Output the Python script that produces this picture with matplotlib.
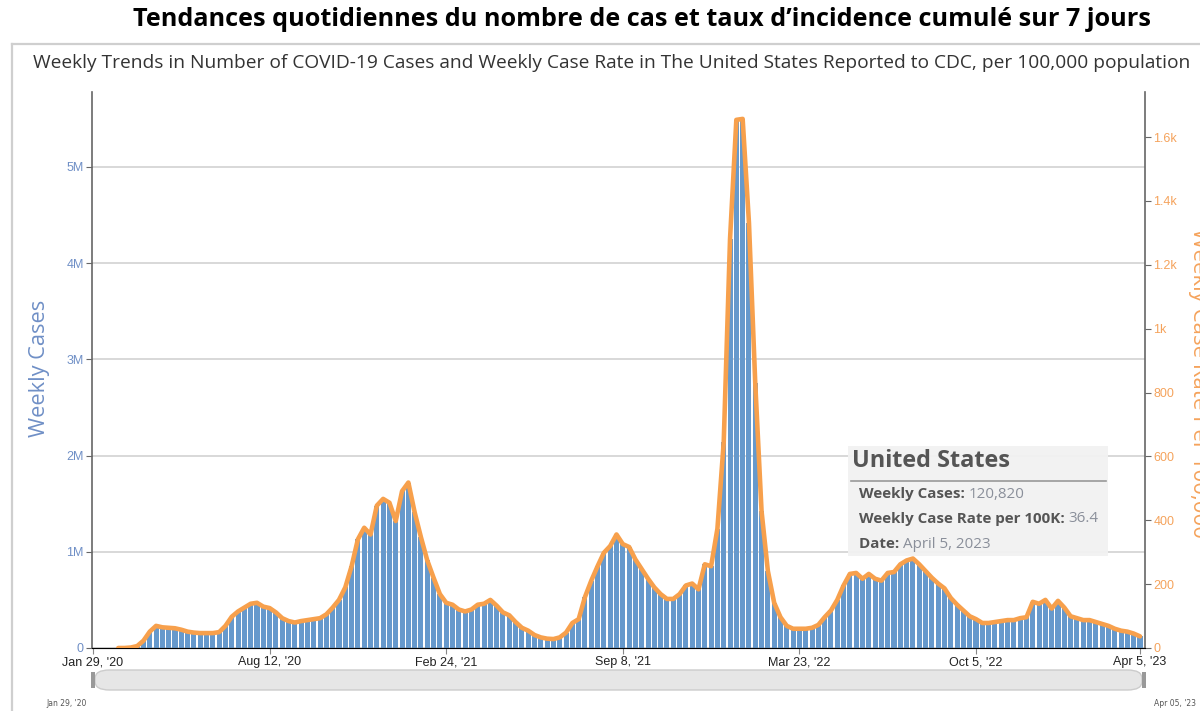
import numpy as np
import pandas as pd
import matplotlib
matplotlib.use("Agg")
import matplotlib.pyplot as plt
from matplotlib.patches import FancyBboxPatch, Rectangle
from matplotlib.lines import Line2D

# ---------------- data ----------------
start_date = "2020-01-29"
n_weeks = 167
# weekly cases in millions; NaN = no data drawn
weekly_cases_m = [
    np.nan, np.nan, np.nan, np.nan, 0.0, 0.0, 0.005, 0.02, 0.076, 0.17,
    0.23, 0.215, 0.21, 0.205, 0.19, 0.17, 0.16, 0.155, 0.155, 0.155,
    0.165, 0.23, 0.325, 0.38, 0.42, 0.46, 0.47, 0.43, 0.415, 0.37,
    0.31, 0.28, 0.265, 0.28, 0.29, 0.30, 0.31, 0.35, 0.42, 0.50,
    0.63, 0.85, 1.13, 1.25, 1.18, 1.48, 1.55, 1.51, 1.32, 1.63,
    1.72, 1.41, 1.15, 0.91, 0.73, 0.56, 0.47, 0.45, 0.40, 0.38,
    0.40, 0.45, 0.46, 0.50, 0.44, 0.37, 0.34, 0.27, 0.21, 0.18,
    0.135, 0.11, 0.097, 0.093, 0.11, 0.16, 0.26, 0.30, 0.53, 0.70,
    0.85, 0.99, 1.06, 1.18, 1.08, 1.05, 0.92, 0.82, 0.72, 0.63,
    0.56, 0.51, 0.51, 0.56, 0.65, 0.67, 0.61, 0.87, 0.85, 1.24,
    2.14, 4.25, 5.49, 5.50, 4.42, 2.75, 1.42, 0.80, 0.47, 0.32,
    0.23, 0.20, 0.20, 0.20, 0.21, 0.24, 0.32, 0.39, 0.50, 0.65,
    0.77, 0.78, 0.72, 0.77, 0.72, 0.70, 0.78, 0.79, 0.87, 0.91,
    0.93, 0.87, 0.80, 0.73, 0.67, 0.62, 0.52, 0.45, 0.39, 0.33,
    0.30, 0.26, 0.26, 0.27, 0.28, 0.29, 0.29, 0.31, 0.32, 0.48,
    0.46, 0.50, 0.41, 0.49, 0.42, 0.33, 0.31, 0.29, 0.29, 0.27,
    0.25, 0.23, 0.20, 0.18, 0.17, 0.15, 0.12082,
]
assert len(weekly_cases_m) == n_weeks
us_population = 331_900_000

tick_dates = ["2020-01-29", "2020-08-12", "2021-02-24", "2021-09-08",
              "2022-03-23", "2022-10-05", "2023-04-05"]
tick_labels = ["Jan 29, '20", "Aug 12, '20", "Feb 24, '21", "Sep 8, '21",
               "Mar 23, '22", "Oct 5, '22", "Apr 5, '23"]
left_ticks_m = [0, 1, 2, 3, 4, 5]
left_tick_labels = ["0", "1M", "2M", "3M", "4M", "5M"]
right_ticks = [0, 200, 400, 600, 800, 1000, 1200, 1400, 1600]
right_tick_labels = ["0", "200", "400", "600", "800", "1k", "1.2k", "1.4k", "1.6k"]

tooltip_title = "United States"
tooltip_rows = [("Weekly Cases:", "120,820"),
                ("Weekly Case Rate per 100K:", "36.4"),
                ("Date:", "April 5, 2023")]

# ---------------- figure ----------------
W, H = 1200, 711
fig = plt.figure(figsize=(W / 100, H / 100), dpi=100)
fig.patch.set_facecolor("white")

def fx(px):
    return px / W

def fy(py):
    return 1 - py / H

BLUE = "#6699cc"
ORANGE = "#f7a04c"
BLUE_TXT = "#6f8fc6"
ORANGE_TXT = "#f5a35c"

# panel border
fig.add_artist(Line2D([fx(12), fx(12)], [fy(44), fy(711)], color="#cfcfcf", lw=1.6))
fig.add_artist(Line2D([fx(12), fx(1200)], [fy(44), fy(44)], color="#cfcfcf", lw=1.6))

fig.text(fx(642), fy(20), "Tendances quotidiennes du nombre de cas et taux d\u2019incidence cumulé sur 7 jours",
         ha="center", va="center", fontsize=18.2, fontweight="bold", family="Open Sans", color="black")
fig.text(fx(33), fy(63), "Weekly Trends in Number of COVID-19 Cases and Weekly Case Rate in The United States Reported to CDC, per 100,000 population",
         ha="left", va="center", fontsize=13.75, family="Open Sans", color="#333333")

left_px, right_px, top_px, bot_px = 92, 1145, 92, 648
ax = fig.add_axes([fx(left_px), fy(bot_px), fx(right_px - left_px), (bot_px - top_px) / H])

x = np.arange(n_weeks)
cases = np.array(weekly_cases_m) * 1e6
rate = cases * 1e5 / us_population

ax.bar(x, cases, width=0.8, color=BLUE, linewidth=0, zorder=2)
ax2 = ax.twinx()
ax2.plot(x, rate, color=ORANGE, lw=3.3, solid_joinstyle="round", solid_capstyle="round", zorder=3)

px_per_week = (1140 - 93) / 166
ax.set_xlim(-(93 - left_px) / px_per_week, 166 + (right_px - 1140) / px_per_week)
ytop_m = (bot_px - top_px) / 96.2
ax.set_ylim(0, ytop_m * 1e6)
ax2.set_ylim(0, ytop_m * 1e6 * 1e5 / us_population)

dates = pd.date_range(start_date, periods=n_weeks, freq="7D")
tick_pos = [int(np.where(dates == pd.Timestamp(d))[0][0]) for d in tick_dates]
ax.set_xticks(tick_pos)
ax.set_xticklabels(tick_labels, fontsize=9, color="#222222", family="Liberation Sans")
ax.tick_params(axis="x", length=4, color="#888888", pad=2)

ax.set_yticks([v * 1e6 for v in left_ticks_m])
ax.set_yticklabels(left_tick_labels, fontsize=9, color=BLUE_TXT, family="Liberation Sans")
ax.tick_params(axis="y", length=4, color="#666666", pad=2)
ax.grid(axis="y", color="#d6d6d6", lw=1.3, zorder=0)
ax.set_axisbelow(True)

ax2.set_yticks(right_ticks)
ax2.set_yticklabels(right_tick_labels, fontsize=9, color=ORANGE_TXT, family="Liberation Sans")
ax2.tick_params(axis="y", length=4, color="#666666", pad=2)

for a in (ax, ax2):
    a.spines["top"].set_visible(False)
ax.spines["right"].set_visible(False)
ax2.spines["left"].set_visible(False)
ax.spines["left"].set_color("#666666")
ax2.spines["right"].set_color("#666666")
ax.spines["bottom"].set_color("#999999")
ax.spines["left"].set_linewidth(1.2)
ax2.spines["right"].set_linewidth(1.2)

fig.text(fx(40), fy(368), "Weekly Cases", rotation=90, ha="center", va="center",
         fontsize=15.7, family="Open Sans", color=BLUE_TXT)
fig.text(fx(1198), fy(383), "Weekly Case Rate Per 100,000", rotation=270, ha="center", va="center",
         fontsize=16, family="Open Sans", color=ORANGE_TXT)

# tooltip
tb_l, tb_t, tb_r, tb_b = 848, 446, 1108, 556
fig.add_artist(Rectangle((fx(tb_l), fy(tb_b)), fx(tb_r - tb_l), (tb_b - tb_t) / H,
                         facecolor="#f2f2f2", edgecolor="none", alpha=0.95, zorder=10))
fig.text(fx(852), fy(461), tooltip_title, ha="left", va="center", fontsize=16.9,
         fontweight="bold", family="Open Sans", color="#555555", zorder=11)
fig.add_artist(Line2D([fx(851), fx(1106)], [fy(481), fy(481)], color="#999999", lw=1.2, zorder=11))
row_y = [494, 519, 544]
rend = fig.canvas.get_renderer()
for (lab, val), yy in zip(tooltip_rows, row_y):
    t = fig.text(fx(859), fy(yy), lab + " ", ha="left", va="center", fontsize=10.9,
                 fontweight="bold", family="Open Sans", color="#555555", zorder=11)
    bb = t.get_window_extent(renderer=rend)
    fig.text(bb.x1 / W, fy(yy), val, ha="left", va="center", fontsize=10.9,
             family="Open Sans", color="#8a8f9a", zorder=11)

# navigator
nav = FancyBboxPatch((fx(95), fy(690)), fx(1142 - 95), 20 / H,
                     boxstyle="round,pad=0,rounding_size=0.012", transform=fig.transFigure,
                     facecolor="#e6e6e6", edgecolor="#cccccc", lw=1.0)
fig.add_artist(nav)
for hx in (93, 1144):
    fig.add_artist(Rectangle((fx(hx - 2), fy(688)), fx(4), 16 / H, facecolor="#999999",
                             edgecolor="none"))
fig.text(fx(67), fy(703), "Jan 29, '20", ha="center", va="center", fontsize=5.5,
         family="Liberation Sans Narrow", color="#555555")
fig.text(fx(1175), fy(703), "Apr 05, '23", ha="center", va="center", fontsize=5.5,
         family="Liberation Sans Narrow", color="#555555")

fig.savefig("out.png", dpi=100, facecolor="white")
